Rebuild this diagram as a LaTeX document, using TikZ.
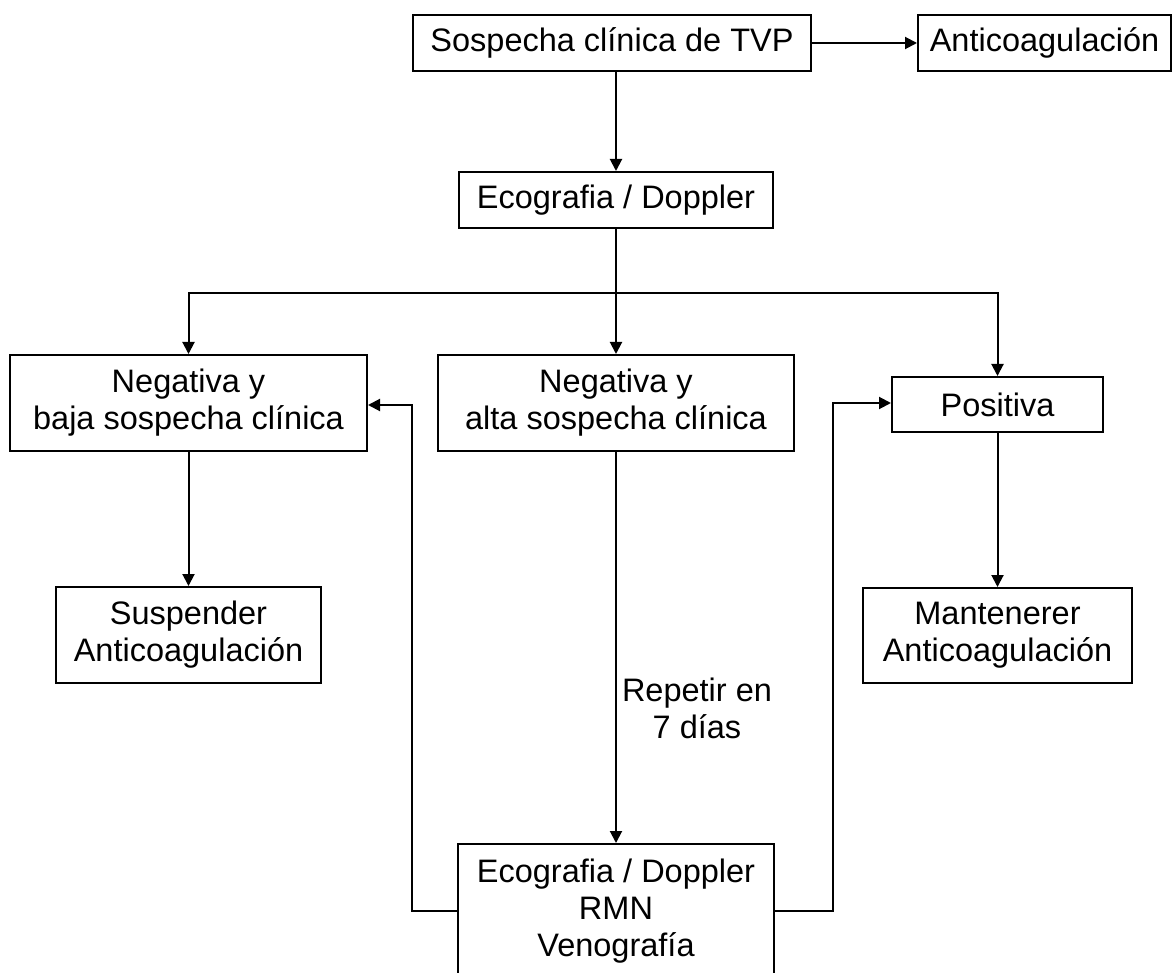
\documentclass[tikz,border=0pt]{standalone}
\usepackage{fontspec}
\setmainfont{Liberation Sans}
\usetikzlibrary{arrows.meta}
\begin{document}
\begin{tikzpicture}[x=0.5pt,y=-0.5pt,
  box/.style={draw, line width=1pt, align=center, inner sep=0pt,
    font=\fontsize{16.25}{18.5}\selectfont},
  conn/.style={line width=1pt},
  arr/.style={conn, -{Triangle[length=6pt,width=6pt]}},
  lbl/.style={align=center, inner sep=0pt, font=\fontsize{16.25}{18.5}\selectfont}]
\clip (0,0) rectangle (1173,973);
\fill[white] (0,0) rectangle (1173,973);

\node[box, minimum width=199pt, minimum height=28pt] (sos) at (612,43) {Sospecha clínica de TVP};
\node[box, minimum width=126.5pt, minimum height=28pt] (anti) at (1044.5,43) {Anticoagulación};
\node[box, minimum width=157pt, minimum height=28pt] (eco) at (616,200) {Ecografia / Doppler};
\node[box, minimum width=178.5pt, minimum height=48pt] (neg1) at (188.5,403) {Negativa y\\baja sospecha clínica};
\node[box, minimum width=178pt, minimum height=48pt] (neg2) at (616,403) {Negativa y\\alta sospecha clínica};
\node[box, minimum width=105.5pt, minimum height=27.5pt] (pos) at (997.5,404.5) {Positiva};
\node[box, minimum width=132.5pt, minimum height=48pt] (susp) at (188.5,635) {Suspender\\Anticoagulación};
\node[box, minimum width=134.5pt, minimum height=47.5pt] (mant) at (997.5,635.5) {Mantenerer\\Anticoagulación};
\node[box, minimum width=158pt, minimum height=67pt] (bot) at (616,911) {Ecografia / Doppler\\RMN\\Venografía};
\node[lbl] (rep) at (697,708) {Repetir en\\7 días};

\coordinate (split) at (616,293);
\coordinate (L) at (412,405);
\coordinate (R) at (833,403);

\draw[arr] (sos.east) -- (anti.west);
\draw[arr] (eco.north |- sos.south) -- (eco.north);
\draw[conn] (eco.south) -- (split);
\draw[arr] (split) -| (neg1.north);
\draw[arr] (split) -| (pos.north);
\draw[arr] (split) -- (neg2.north);
\draw[arr] (neg1.south) -- (susp.north);
\draw[arr] (pos.south) -- (mant.north);
\draw[arr] (neg2.south) -- (bot.north);
\draw[arr] (bot.west) -| (L) -- (L -| neg1.east);
\draw[arr] (bot.east) -| (R) -- (R -| pos.west);
\end{tikzpicture}
\end{document}
